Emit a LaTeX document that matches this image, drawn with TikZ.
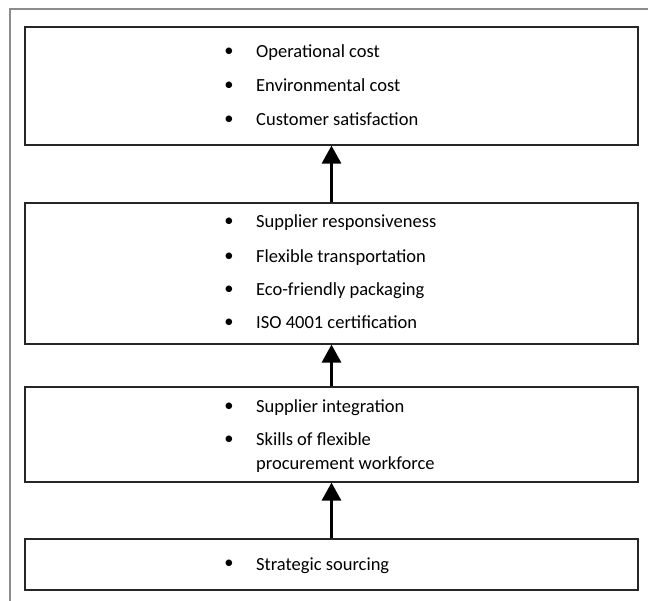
\documentclass[tikz,border=0pt]{standalone}
\usepackage{fontspec}
\setmainfont{Carlito}
\usetikzlibrary{arrows.meta}
\tikzset{
  level/.style={draw=black!85,line width=1.2pt,minimum width=613pt,inner sep=0pt},
  entry/.style={anchor=base west,inner sep=0pt,font=\fontsize{18.5}{22}\selectfont},
  bull/.style={inner sep=0pt,font=\fontsize{18.5}{22}\selectfont},
  up/.style={-{Triangle[width=19pt,length=18pt]},line width=3pt},
}
\begin{document}
\begin{tikzpicture}[x=1pt,y=-1pt]
\useasboundingbox (0,0) rectangle (648,601);
\draw[black!45,line width=1.5pt] (10,601) -- (10,9) -- (648,9);
% the four levels
\node[level,minimum height=118pt] (b1) at (331.5,86) {};
\node[level,minimum height=141pt] (b2) at (331.5,273.5) {};
\node[level,minimum height=95pt] (b3) at (331.5,434.5) {};
\node[level,minimum height=51pt] (b4) at (331.5,564.5) {};
% top level
\node[bull] (d11) at (229,52) {•};
\node[entry] (t11) at (256,58) {Operational cost};
\node[bull] (d12) at (229,86) {•};
\node[entry] (t12) at (256,92) {Environmental cost};
\node[bull] (d13) at (229,120) {•};
\node[entry] (t13) at (256,126) {Customer satisfaction};
% second level
\node[bull] (d21) at (229,222) {•};
\node[entry] (t21) at (256,228) {Supplier responsiveness};
\node[bull] (d22) at (229,257) {•};
\node[entry] (t22) at (256,263) {Flexible transportation};
\node[bull] (d23) at (229,290) {•};
\node[entry] (t23) at (256,296) {Eco-friendly packaging};
\node[bull] (d24) at (229,323) {•};
\node[entry] (t24) at (256,329) {ISO 4001 certification};
% third level
\node[bull] (d31) at (229,407) {•};
\node[entry] (t31) at (256,413) {Supplier integration};
\node[bull] (d32) at (229,440) {•};
\node[entry] (t32) at (256,446) {Skills of flexible};
\node[entry] (t33) at (256,469) {procurement workforce};
% bottom level
\node[bull] (d41) at (229,564) {•};
\node[entry] (t41) at (256,570) {Strategic sourcing};
% arrows
\draw[up] (b2.north) -- (b1.south);
\draw[up] (b3.north) -- (b2.south);
\draw[up] (b4.north) -- (b3.south);
\end{tikzpicture}
\end{document}
